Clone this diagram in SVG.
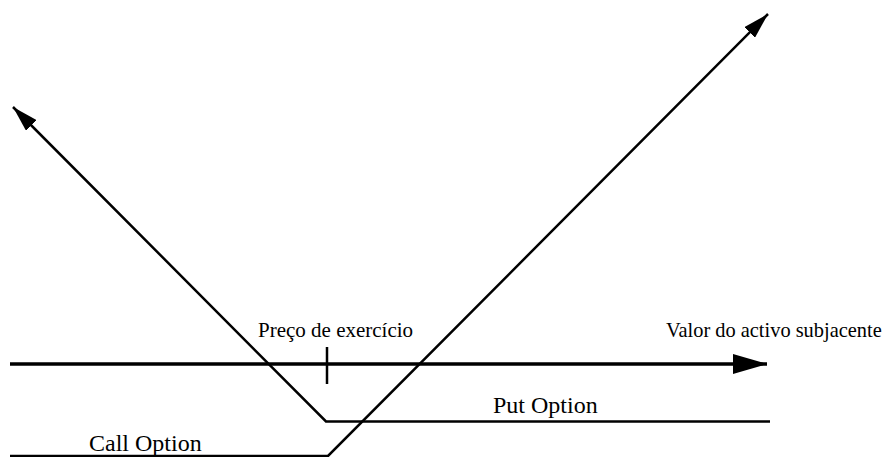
<svg xmlns="http://www.w3.org/2000/svg" width="887" height="457" viewBox="0 0 887 457">
<style>
.t{font-family:"Liberation Serif","Times New Roman",serif;font-size:21px;fill:#000}
.v{font-size:20.4px}
.big{font-size:24px}
.l{stroke:#000;fill:none;stroke-linecap:butt;stroke-linejoin:miter}
</style>
<defs>
<marker id="ah" viewBox="0 0 26 15" refX="26" refY="7.5" markerWidth="26" markerHeight="15" markerUnits="userSpaceOnUse" orient="auto"><path d="M0,0 L26,7.5 L0,15 Z" fill="#000"/></marker>
<marker id="ax" viewBox="0 0 34 20" refX="34" refY="10" markerWidth="34" markerHeight="20" markerUnits="userSpaceOnUse" orient="auto"><path d="M0,0 L34,10 L0,20 Z" fill="#000"/></marker>
</defs>
<rect width="887" height="457" fill="#fff"/>
<g id="connectors">
<line id="axis" class="l" x1="10" y1="364" x2="767" y2="364" stroke-width="3.5" marker-end="url(#ax)"/>
<line id="tick" class="l" x1="327" y1="347" x2="327" y2="384" stroke-width="2.5"/>
<polyline id="put" class="l" points="770,421.5 326,421.5 13,107" stroke-width="2.5" marker-end="url(#ah)"/>
<polyline id="call" class="l" points="10,456 328,456 768,14" stroke-width="2.5" marker-end="url(#ah)"/>
</g>
<g id="labels">
<text class="t" x="258" y="337">Preço de exercício</text>
<text class="t v" x="666" y="337">Valor do activo subjacente</text>
<text class="t big" x="493" y="413">Put Option</text>
<text class="t big" x="89" y="451">Call Option</text>
</g>
</svg>
